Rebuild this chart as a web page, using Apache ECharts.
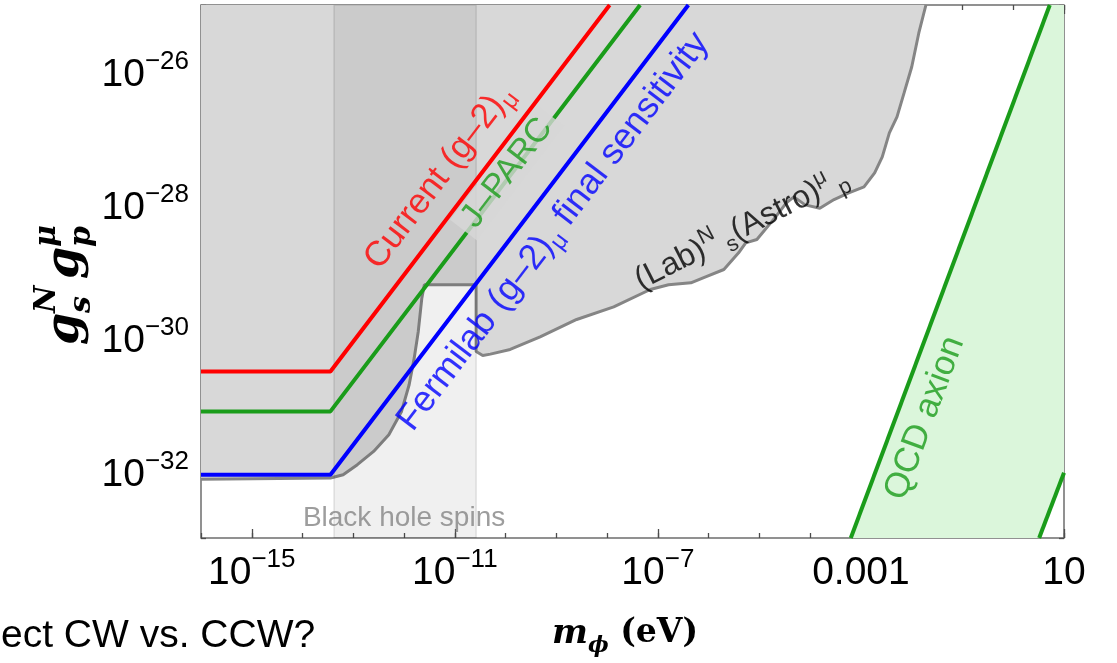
<!DOCTYPE html>
<html>
<head>
<meta charset="utf-8">
<script src="https://cdn.jsdelivr.net/npm/echarts@6/dist/echarts.min.js"></script>
<style>
  html, body { margin: 0; padding: 0; background: #ffffff; }
  #chart { width: 1117px; height: 663px; }
</style>
</head>
<body>
<div id="chart"></div>
<script>
// Both axes are logarithmic: every value below is a decimal exponent,
// x = log10(m_phi / eV), y = log10(g_s^N g_p^mu).

// Tick labels (only every fourth decade on x, every second on y)
const xTickExps = [-15, -11, -7, -3, 1];
const xTickText = [['10', '−15'], ['10', '−11'], ['10', '−7'], ['0.001', ''], ['10', '']];
const yTickExps = [-32, -30, -28, -26];
const yTickText = [['10', '−32'], ['10', '−30'], ['10', '−28'], ['10', '−26']];

// Muon g-2 reach lines: flat below the kink, linear in m above it
const currentG2 = [[-16, -30.5], [-13.45, -30.5], [-7.95, -25]];
const jParc     = [[-16, -31.1], [-13.45, -31.1], [-7.35, -25]];
const fermilab  = [[-16, -32.05], [-13.45, -32.05], [-6.4, -25]];

// Lower edge of the combined (Lab)^N_s (Astro)^mu_p exclusion
const labAstroEdge = [
  [-16, -32.12], [-13.45, -32.1], [-13.2, -32.05], [-12.92, -31.9], [-12.6, -31.7],
  [-12.3, -31.45], [-12.05, -31.1], [-11.9, -30.7], [-11.8, -30.3], [-11.72, -29.9],
  [-11.65, -29.4], [-11.6, -29.2], [-10.58, -29.2], [-10.58, -30.2], [-10.45, -30.26],
  [-10.3, -30.24], [-9.91, -30.17], [-9.32, -29.98], [-8.6, -29.72], [-7.87, -29.53],
  [-7.15, -29.27], [-6.79, -29.2], [-6.35, -29.17], [-6.06, -29.08], [-5.7, -28.97],
  [-5.41, -28.72], [-5.27, -28.57], [-5.05, -28.52], [-4.68, -28.18], [-4.47, -27.97],
  [-4.32, -27.88], [-4.1, -28.0], [-3.81, -28.05], [-3.53, -27.92], [-3.24, -27.82],
  [-2.94, -27.73], [-2.73, -27.52], [-2.58, -27.28], [-2.44, -26.92], [-2.29, -26.68],
  [-2.15, -26.32], [-2.0, -25.93], [-1.86, -25.42], [-1.72, -25.0]
];

// Mass window probed by black hole superradiance
const blackHoleSpins = [-13.38, -10.58];

// QCD axion band edges
const qcdAxionLeft  = [[-3.2, -33], [0.72, -25]];
const qcdAxionRight = [[0.51, -33], [1, -32.02]];

const X_MIN = -16, X_MAX = 1, Y_MIN = -33, Y_MAX = -25;
const GRID = { left: 201, right: 53, top: 5, bottom: 125 };
const W = 1117, H = 663;
const pxX = (W - GRID.left - GRID.right) / (X_MAX - X_MIN);
const pxY = (H - GRID.top - GRID.bottom) / (Y_MAX - Y_MIN);
const screenAngle = slope => Math.atan2(slope * pxY, pxX) * 180 / Math.PI;

const SANS = 'Liberation Sans';
const SERIF = 'DejaVu Serif';

function powerLabel(pair) {
  return pair[1] ? '{b|' + pair[0] + '}{e|' + pair[1] + '}' : '{b|' + pair[0] + '}';
}
const tickRich = {
  b: { fontSize: 39, lineHeight: 46, verticalAlign: 'bottom', fontFamily: SANS, color: '#000' },
  e: { fontSize: 26, verticalAlign: 'top', fontFamily: SANS, color: '#000' }
};
function labelFor(exps, texts) {
  return v => {
    const i = exps.findIndex(e => Math.abs(e - v) < 1e-6);
    return i < 0 ? '' : powerLabel(texts[i]);
  };
}

const tickLine = { color: '#4d4d4d', width: 1.3 };
// Frame axes: no axis line (the grid border draws the frame), pinned to the plot edges
function axis(position, min, max, opts) {
  return Object.assign({
    type: 'value', position, min, max,
    axisLine: { show: false, onZero: false }, splitLine: { show: false },
    axisLabel: { show: false }
  }, opts);
}

const xAxes = [
  axis('bottom', X_MIN, X_MAX, {
    interval: 1,
    axisTick: { inside: true, length: 5, lineStyle: tickLine },
    axisLabel: { show: true, margin: 9, formatter: labelFor(xTickExps, xTickText),
                 rich: tickRich, showMinLabel: true, showMaxLabel: true }
  }),
  axis('bottom', X_MIN, X_MAX, { axisTick: { inside: true, length: 9, customValues: xTickExps, lineStyle: tickLine } }),
  axis('top', X_MIN, X_MAX, { interval: 1, axisTick: { inside: true, length: 5, lineStyle: tickLine } }),
  axis('top', X_MIN, X_MAX, { axisTick: { inside: true, length: 9, customValues: xTickExps, lineStyle: tickLine } })
];
const yAxes = [
  axis('left', Y_MIN, Y_MAX, {
    interval: 1,
    axisTick: { inside: true, length: 5, lineStyle: tickLine },
    axisLabel: { show: true, margin: 12, formatter: labelFor(yTickExps, yTickText),
                 rich: tickRich, showMinLabel: true, showMaxLabel: true }
  }),
  axis('left', Y_MIN, Y_MAX, { axisTick: { inside: true, length: 9, customValues: yTickExps, lineStyle: tickLine } }),
  axis('right', Y_MIN, Y_MAX, { interval: 1, axisTick: { inside: true, length: 5, lineStyle: tickLine } }),
  axis('right', Y_MIN, Y_MAX, { axisTick: { inside: true, length: 9, customValues: yTickExps, lineStyle: tickLine } })
];

function reachLine(name, data, color) {
  return { name, type: 'line', data, showSymbol: false, symbol: 'none', z: 5, silent: true,
           lineStyle: { color, width: 4 }, animation: false };
}

const RED = '#ff0000', GREEN = '#1a9c1a', BLUE = '#0000ff';

// Text notes placed on the chart in data coordinates
const notes = [
  { text: '{t|Current (g–2)}{s|μ}', at: [-11.31, -27.58], color: RED, angle: screenAngle(1), size: 35 },
  { text: '{m|J–PARC}', at: [-9.97, -27.52], color: GREEN, angle: screenAngle(1), size: 34 },
  { text: '{t|Fermilab (g–2)}{s|μ}{t| final sensitivity}', at: [-9.06, -28.4], color: BLUE, angle: screenAngle(1), size: 36 },
  { text: '{t|(Lab)}{p|N}{s| s}{t|(Astro)}{p|μ}{s| p}', at: [-5.35, -28.36], color: '#000', angle: 27, size: 32 },
  { text: '{t|QCD axion}', at: [-1.74, -31.2], color: GREEN, angle: screenAngle(2.04), size: 35 },
  { text: '{g|Black hole spins}', at: [-12.0, -32.7], color: '#858585', angle: 0, size: 28 }
];
function noteRich(color, size) {
  const sub = Math.round(size * 0.68);
  return {
    t: { fontSize: size, fontFamily: SANS, color, lineHeight: Math.round(size * 1.3), verticalAlign: 'middle' },
    s: { fontSize: sub, fontFamily: SANS, color, verticalAlign: 'bottom' },
    p: { fontSize: sub, fontFamily: SANS, color, verticalAlign: 'top' },
    m: { fontSize: size, fontFamily: SANS, color, lineHeight: size + 2, backgroundColor: '#d7d7d7', padding: [0, 8] },
    g: { fontSize: size, fontFamily: SANS, color }
  };
}

const chart = echarts.init(document.getElementById('chart'), null, { renderer: 'canvas', width: W, height: H });

const titleFont = { fontWeight: 'bold', fontStyle: 'italic', fontFamily: SERIF, fill: '#000', verticalAlign: 'middle' };
const glyph = (text, x, y, size) => ({ type: 'text', x, y, style: Object.assign({ text, fontSize: size }, titleFont) });

chart.setOption({
  animation: false,
  backgroundColor: '#ffffff',
  textStyle: { fontFamily: SANS },
  grid: Object.assign({ show: true, borderColor: '#6e6e6e', borderWidth: 1.5, backgroundColor: '#ffffff' }, GRID),
  xAxis: xAxes,
  yAxis: yAxes,
  series: [
    {
      name: 'QCD axion band', type: 'custom', z: 1, silent: true, clip: true,
      data: [[X_MAX, Y_MAX]],
      renderItem: (params, api) => {
        const pts = qcdAxionLeft.concat([[X_MAX, Y_MAX]], qcdAxionRight.slice().reverse());
        return { type: 'polygon', shape: { points: pts.map(p => api.coord(p)) },
                 style: { fill: '#dbf6db' } };
      }
    },
    {
      name: '(Lab)(Astro)', type: 'line', data: labAstroEdge, showSymbol: false, symbol: 'none',
      z: 2, silent: true,
      lineStyle: { color: '#858585', width: 3 },
      areaStyle: { color: '#d8d8d8', opacity: 1, origin: 'end' }
    },
    {
      name: 'Black hole spins', type: 'custom', z: 3, silent: true, clip: true,
      data: [blackHoleSpins],
      renderItem: (params, api) => {
        const a = api.coord([api.value(0), Y_MAX]);
        const b = api.coord([api.value(1), Y_MIN]);
        return { type: 'rect', shape: { x: a[0], y: a[1], width: b[0] - a[0], height: b[1] - a[1] },
                 style: { fill: 'rgba(0,0,0,0.06)', stroke: 'rgba(0,0,0,0.10)', lineWidth: 1.5 } };
      }
    },
    reachLine('QCD axion left', qcdAxionLeft, GREEN),
    reachLine('QCD axion right', qcdAxionRight, GREEN),
    reachLine('Current (g-2)', currentG2, RED),
    reachLine('J-PARC', jParc, GREEN),
    reachLine('Fermilab', fermilab, BLUE),
    {
      name: 'notes', type: 'scatter', z: 10, silent: true, symbolSize: 0,
      data: notes.map(n => ({
        value: n.at,
        label: { show: true, position: 'inside', rotate: n.angle, formatter: n.text, rich: noteRich(n.color, n.size) }
      }))
    }
  ],
  graphic: [
    {
      // g_s^N g_p^mu, read bottom to top
      type: 'group', x: 66, y: 281, rotation: Math.PI / 2, silent: true,
      children: [
        glyph('g', -64, 0, 46),
        glyph('s', -32, 16, 30),
        glyph('N', -32, -19, 30),
        glyph('g', 2, 0, 46),
        glyph('p', 34, 16, 30),
        glyph('μ', 34, -19, 30)
      ]
    },
    {
      type: 'text', x: 552, y: 617, silent: true,
      style: {
        text: '{m|m}{s|ϕ}{e| (eV)}',
        rich: {
          m: { fontSize: 34, fontWeight: 'bold', fontStyle: 'italic', fontFamily: SERIF, lineHeight: 40, verticalAlign: 'top', fill: '#000' },
          s: { fontSize: 22, fontWeight: 'bold', fontStyle: 'italic', fontFamily: SERIF, verticalAlign: 'bottom', fill: '#000' },
          e: { fontSize: 33, fontWeight: 'bold', fontFamily: SERIF, verticalAlign: 'top', fill: '#000' }
        }
      }
    },
    {
      type: 'text', x: 1, y: 636, silent: true,
      style: { text: 'ect CW vs. CCW?', fontSize: 39, fontFamily: SANS, fill: '#000', verticalAlign: 'middle' }
    }
  ]
});
</script>
</body>
</html>
